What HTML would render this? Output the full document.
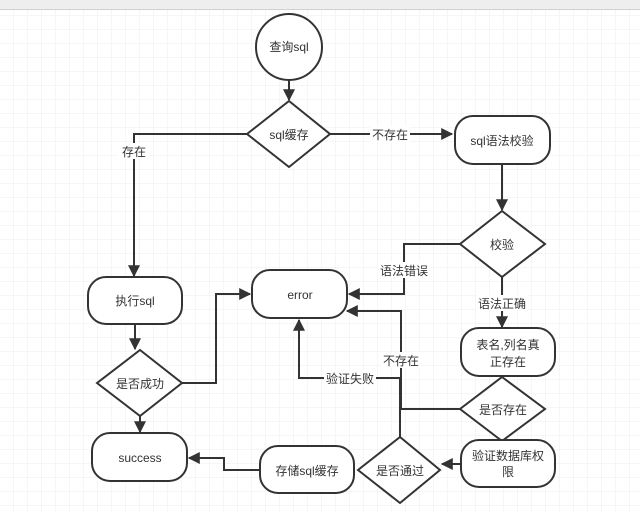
<!DOCTYPE html>
<html><head><meta charset="utf-8"><style>
html,body{margin:0;padding:0;background:#fff;}
svg{display:block;font-family:"Liberation Sans","Noto Sans CJK SC",sans-serif;}
</style></head><body>
<svg width="640" height="513" viewBox="0 0 640 513" xmlns="http://www.w3.org/2000/svg">
<defs>
<pattern id="g" width="14" height="14" patternUnits="userSpaceOnUse" x="0" y="2">
<path d="M14 0V14M0 14H14" stroke="#ececec" stroke-width="1" fill="none"/>
</pattern>
<marker id="a" viewBox="0 0 10 10" refX="9" refY="5" markerWidth="6" markerHeight="6" orient="auto-start-reverse"><path d="M0 0L10 5L0 10z" fill="#333"/></marker>
</defs>
<rect width="640" height="513" fill="#fff"/>
<rect y="10" width="640" height="503" fill="url(#g)"/>
<rect width="640" height="9" fill="#eeeeee"/>
<line x1="0" y1="9.5" x2="640" y2="9.5" stroke="#d0d0d0"/>
<g stroke="#333" stroke-width="2" fill="none">
<path d="M289 80V100" marker-end="url(#a)"/>
<path d="M247 134H134V276" marker-end="url(#a)"/>
<path d="M330 134H452" marker-end="url(#a)"/>
<path d="M502 164V210" marker-end="url(#a)"/>
<path d="M460 244H404V294H349" marker-end="url(#a)"/>
<path d="M135 324V349" marker-end="url(#a)"/>
<path d="M182 383H216V294H250" marker-end="url(#a)"/>
<path d="M140 415V432" marker-end="url(#a)"/>
<path d="M502 276V327" marker-end="url(#a)"/>
<path d="M460 409H401V311H347" marker-end="url(#a)"/>
<path d="M461 464H442" marker-end="url(#a)"/>
<path d="M400 437V378H299V320" marker-end="url(#a)"/>
<path d="M260 470H224V458H189" marker-end="url(#a)"/>
</g>
<g stroke="#333" stroke-width="2" fill="#fff">
<ellipse cx="289" cy="47" rx="33" ry="33"/>
<path d="M289 101L330 134L289 167L247 134Z"/>
<rect x="455" y="116" width="95" height="48" rx="18"/>
<path d="M502 211L545 244L502 277L460 244Z"/>
<rect x="252" y="270" width="95" height="48" rx="18"/>
<rect x="88" y="277" width="94" height="47" rx="18"/>
<path d="M140 350L182 383L140 416L97 383Z"/>
<rect x="92" y="433" width="95" height="48" rx="18"/>
<rect x="461" y="328" width="94" height="48" rx="18"/>
<path d="M502 377L545 409L502 441L460 409Z"/>
<rect x="461" y="440" width="94" height="47" rx="18"/>
<path d="M400 437L440 470L400 503L358 470Z"/>
<rect x="260" y="446" width="94" height="47" rx="18"/>
</g>
<g font-size="12" fill="#333" text-anchor="middle">
<text x="289" y="51">查询sql</text>
<text x="289" y="139">sql缓存</text>
<text x="502" y="145">sql语法校验</text>
<text x="502" y="249">校验</text>
<text x="300" y="299">error</text>
<text x="135" y="305">执行sql</text>
<text x="140" y="388">是否成功</text>
<text x="140" y="462">success</text>
<text x="508" y="349">表名,列名真</text>
<text x="508" y="366">正存在</text>
<text x="503" y="414">是否存在</text>
<text x="508" y="460">验证数据库权</text>
<text x="508" y="476">限</text>
<text x="400" y="475">是否通过</text>
<text x="307" y="475">存储sql缓存</text>
</g>
<g font-size="12" fill="#333" text-anchor="middle">
<rect x="118" y="143" width="32" height="16" fill="#fff"/>
<text x="134" y="156">存在</text>
<rect x="370" y="126" width="40" height="16" fill="#fff"/>
<text x="390" y="139">不存在</text>
<rect x="378" y="262" width="52" height="16" fill="#fff"/>
<text x="404" y="275">语法错误</text>
<rect x="476" y="295" width="52" height="16" fill="#fff"/>
<text x="502" y="308">语法正确</text>
<rect x="381" y="352" width="40" height="16" fill="#fff"/>
<text x="401" y="365">不存在</text>
<rect x="324" y="370" width="52" height="16" fill="#fff"/>
<text x="350" y="383">验证失败</text>
</g>
</svg>
</body></html>
